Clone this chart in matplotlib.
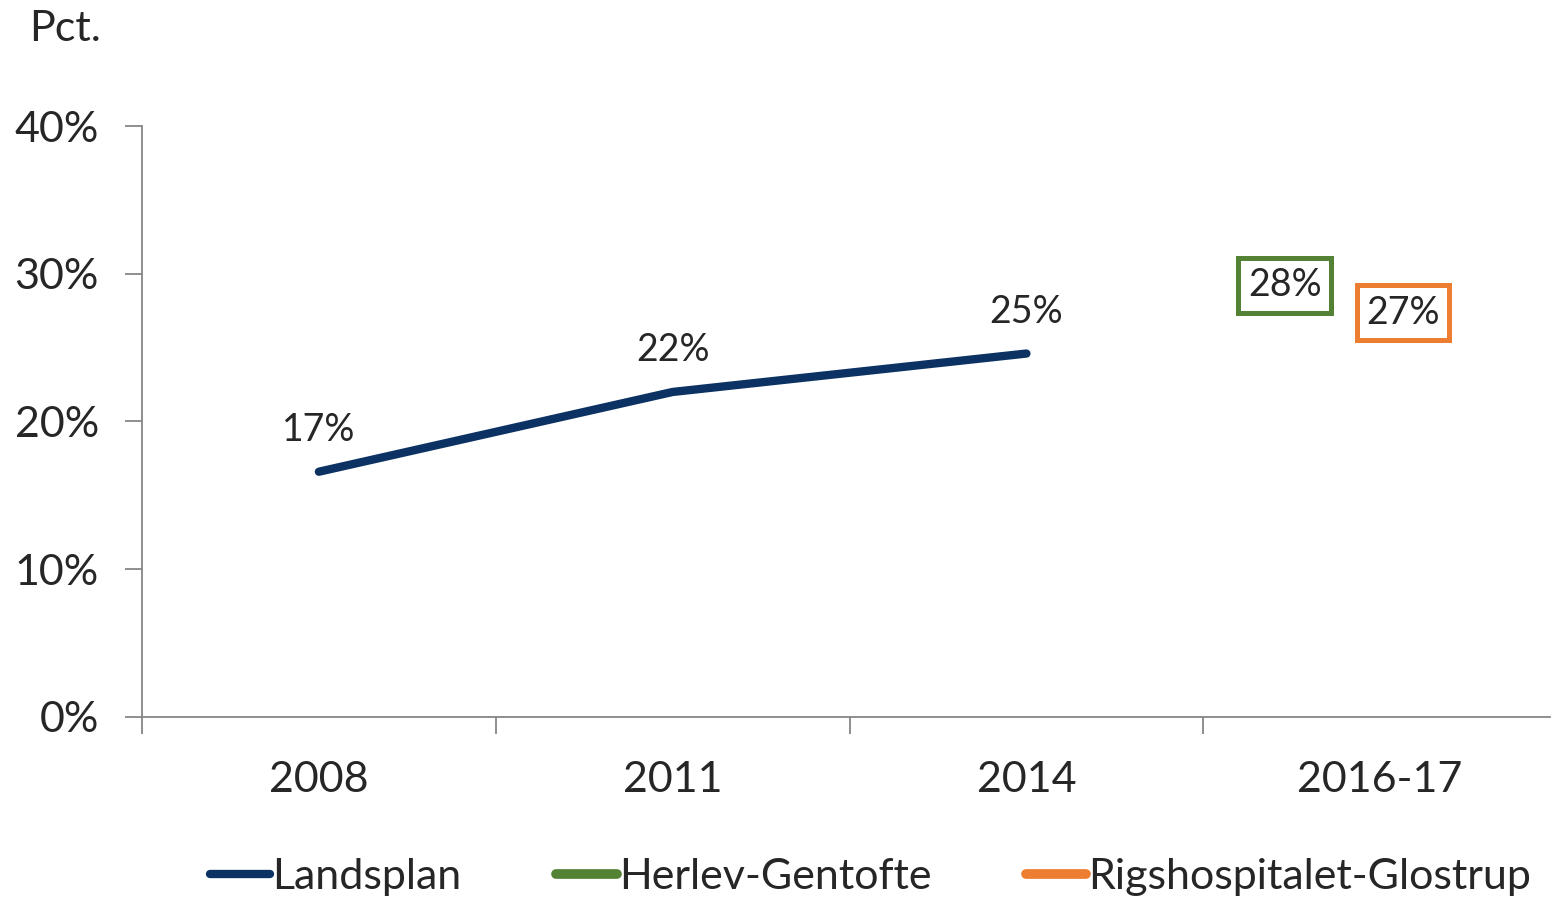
import matplotlib.pyplot as plt
from matplotlib.ticker import FixedLocator, FuncFormatter

plt.rcParams['font.family'] = ['Lato', 'DejaVu Sans']

categories = ["2008", "2011", "2014", "2016-17"]
landsplan = [16.6, 22.0, 24.6]
landsplan_labels = ["17%", "22%", "25%"]
herlev = 28
rigs = 27

navy = "#0c3263"
green = "#548235"
orange = "#ed7d31"
txt = "#262626"
grey = "#868686"

fig = plt.figure(figsize=(15.52, 8.99), dpi=100)
ax = fig.add_axes([0.0915, 0.2025, 0.9072, 0.6573])

xs = list(range(len(landsplan)))
ax.plot(xs, landsplan, color=navy, lw=6, solid_capstyle="round", label="Landsplan")
for x, v, lab in zip(xs, landsplan, landsplan_labels):
    ax.annotate(lab, (x, v), xytext=(0, 30), textcoords="offset points",
                ha="center", va="center", fontsize=27, color=txt)

# single points for the two hospitals, label shown in a box
ax.plot([], [], color=green, lw=7, solid_capstyle="round", label="Herlev-Gentofte")
ax.plot([], [], color=orange, lw=7, solid_capstyle="round", label="Rigshospitalet-Glostrup")
ax.annotate(f"{herlev}%", (2.73, herlev), xytext=(0, 13), textcoords="offset points",
            ha="center", va="center", fontsize=27, color=txt,
            bbox=dict(boxstyle="square,pad=0.25", fc="white", ec=green, lw=3.6))
ax.annotate(f"{rigs}%", (3.064, rigs), xytext=(0, 4), textcoords="offset points",
            ha="center", va="center", fontsize=27, color=txt,
            bbox=dict(boxstyle="square,pad=0.25", fc="white", ec=orange, lw=3.6))

ax.set_ylim(0, 40)
ax.set_xlim(-0.5, 3.48)
ax.yaxis.set_major_locator(FixedLocator([0, 10, 20, 30, 40]))
ax.yaxis.set_major_formatter(FuncFormatter(lambda v, p: f"{v:.0f}%"))
ax.set_xticks(range(len(categories)))
ax.set_xticklabels(categories)
ax.xaxis.set_minor_locator(FixedLocator([-0.5, 0.5, 1.5, 2.5]))
ax.tick_params(axis="x", which="major", length=0, pad=32, labelsize=31, labelcolor=txt)
ax.tick_params(axis="x", which="minor", length=12, width=1.3, color=grey, direction="out")
ax.tick_params(axis="y", length=12, width=1.3, color=grey, direction="out",
               pad=19, labelsize=31, labelcolor=txt)

for s in ["top", "right"]:
    ax.spines[s].set_visible(False)
for s in ["left", "bottom"]:
    ax.spines[s].set_color(grey)
    ax.spines[s].set_linewidth(1.3)

fig.text(0.019, 0.968, "Pct.", fontsize=31, color=txt, ha="left", va="center")

fig.legend(loc="center", bbox_to_anchor=(0.561, 0.0245), ncol=3, frameon=False,
           fontsize=31, handlelength=1.4, handletextpad=0.05, columnspacing=2.2,
           labelcolor=txt)

fig.savefig("out.png", dpi=100)
